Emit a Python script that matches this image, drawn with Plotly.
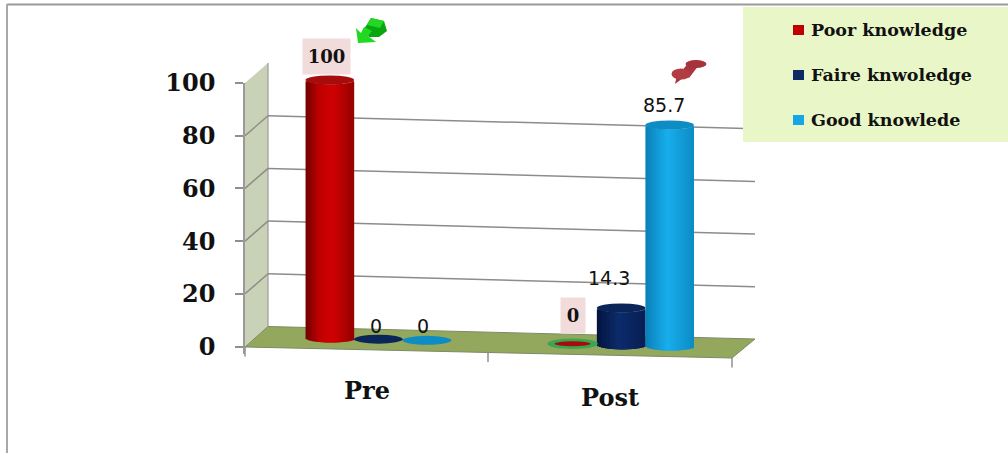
import math
import plotly.graph_objects as go

# ---- chart data ----
categories = ["Pre", "Post"]
series_names = ["Poor knowledge", "Faire knwoledge", "Good knowlede"]
poor_values = [100, 0]
faire_values = [0, 14.3]
good_values = [0, 85.7]
y_ticks = [0, 20, 40, 60, 80, 100]
all_values = [poor_values, faire_values, good_values]

# ---- canvas ----
W, H = 1008, 453


def px(x):
    return x / W


def py(y):
    return 1 - y / H


def poly(points):
    d = "M" + " L".join(f"{px(x):.5f},{py(y):.5f}" for x, y in points) + " Z"
    return d


def paper_poly(points, fill, line="rgba(0,0,0,0)", width=0, layer="below"):
    return dict(type="path", xref="paper", yref="paper", path=poly(points),
                fillcolor=fill, line=dict(color=line, width=width), layer=layer)


def paper_line(x0, y0, x1, y1, color, width):
    return dict(type="line", xref="paper", yref="paper", x0=px(x0), y0=py(y0),
                x1=px(x1), y1=py(y1), line=dict(color=color, width=width), layer="below")


def paper_ellipse(cx, cy, rx, ry, fill, layer="above"):
    return dict(type="circle", xref="paper", yref="paper", x0=px(cx - rx), x1=px(cx + rx),
                y0=py(cy + ry), y1=py(cy - ry), fillcolor=fill,
                line=dict(width=0), layer=layer)


# ---- axis geometry: the value scale of the wall and the scale of the cylinders ----
WALL_ZERO, WALL_TOP, AXIS_BOTTOM = 346.5, 83.0, 354.0
WALL_SCALE = (WALL_ZERO - WALL_TOP) / 100
BAR_SCALE = 2.58
BAR_SPAN_TOP = 40.0
GROUP_LEFT, GROUP_RIGHT = 257.0, 742.5          # category band of the cylinders
FRONT_LEFT, FRONT_RIGHT = 245.0, 732.0          # category band of the front edge
STEP = (GROUP_RIGHT - GROUP_LEFT) / 2
BAR_W = 0.2                                      # cylinder width in category units
BAR_W_PX = BAR_W * STEP
RY = 4.5                                         # half height of a cylinder's ellipse
N_BANDS = 24

# cylinder shading: dark rim, bright body
side_shades = [
    [(0.0, (112, 0, 0)), (0.28, (190, 0, 0)), (0.55, (208, 2, 2)), (1.0, (150, 0, 0))],
    [(0.0, (4, 20, 62)), (0.45, (12, 44, 108)), (1.0, (8, 30, 84))],
    [(0.0, (10, 128, 184)), (0.45, (24, 174, 236)), (1.0, (12, 140, 196))],
]
cap_colors = ["#a60c0c", "#0a2558", "#0e8cc4"]
series_swatches = ["#c00000", "#0d2a66", "#16a6e6"]


def shade(stops, t):
    for (t0, c0), (t1, c1) in zip(stops, stops[1:]):
        if t <= t1:
            a = (t - t0) / (t1 - t0)
            r, g, b = (round(u + (v - u) * a) for u, v in zip(c0, c1))
            return f"rgb({r},{g},{b})"
    return f"rgb{stops[-1][1]}"


def floor_lift(cat, ser):
    """Height of a cylinder's base above the zero line, in value units: the floor recedes rightward."""
    centre = GROUP_LEFT + STEP * (cat + 0.5) + (ser - 1) * BAR_W_PX
    base_px = 338.0 + 0.0238 * (centre - 330)
    return (WALL_ZERO - base_px) / BAR_SCALE


fig = go.Figure()

# Each cylinder is a stack of overlapping vertical bars, giving the side shading and a rounded base
for s, (name, vals) in enumerate(zip(series_names, all_values)):
    band = BAR_W / N_BANDS
    for k in range(N_BANDS):
        t = (k + 0.5) / N_BANDS
        u = 2 * t - 1
        bulge = RY * math.sqrt(1 - u * u) / BAR_SCALE
        left = (s - 1) * BAR_W - BAR_W / 2 + k * band
        fig.add_trace(go.Bar(
            x=categories, y=vals,
            base=[floor_lift(c, s) - bulge if v else 0 for c, v in enumerate(vals)],
            width=min(2.2 * band, (N_BANDS - k) * band), offset=left,
            marker=dict(color=shade(side_shades[s], t), line=dict(width=0)),
            name=name, showlegend=False, hoverinfo="skip",
            cliponaxis=False, xaxis="x2", yaxis="y2",
        ))

shapes = []

# page frame
shapes.append(paper_line(7, 4.5, W, 4.5, "#9a9a9a", 2))
shapes.append(paper_line(7, 4, 7, H, "#a8a8a8", 2))

# side wall and floor of the 3-D box
shapes.append(paper_poly([(245, 83), (268, 63), (268, 326.5), (245, 346.5)], "#c9d1b6"))
shapes.append(paper_poly([(245, 347), (268, 326.5), (755, 339), (732, 358)], "#93a85c", "#7d8a66", 1))
shapes.append(paper_line(268, 63, 268, 326.5, "#9a9a9a", 1.2))

# gridlines: a short run on the side wall, then across the back wall
for v in y_ticks:
    rise = 20 / WALL_SCALE
    drop = 13 / WALL_SCALE
    if v > 0:
        shapes.append(dict(type="line", xref="paper", yref="y", x0=px(245), x1=px(268),
                           y0=v, y1=v + rise, line=dict(color="#8c8c8c", width=1.5), layer="below"))
        shapes.append(dict(type="line", xref="paper", yref="y", x0=px(268), x1=px(755),
                           y0=v + rise, y1=v + rise - drop, line=dict(color="#8c8c8c", width=1.5), layer="below"))

# ticks on the sloping front edge
for bx, by in [(245, 347), (488, 352.5), (732, 358)]:
    shapes.append(paper_line(bx, by, bx, by + 9.5, "#8f8f8f", 1.5))

# legend panel
shapes.append(dict(type="rect", xref="paper", yref="paper", x0=px(743), x1=1, y0=py(142), y1=py(7),
                   fillcolor="#e9f7c8", line=dict(width=0), layer="below"))

# cylinder tops (flat discs where the value is zero)
for s, vals in enumerate(all_values):
    for c, v in enumerate(vals):
        cx = c + (s - 1) * BAR_W
        cy = v + floor_lift(c, s)
        dy = RY / BAR_SCALE
        if v == 0 and s == 0:   # ringed disc
            shapes.append(dict(type="circle", xref="x2", yref="y2", x0=cx - BAR_W * 0.52, x1=cx + BAR_W * 0.52,
                               y0=cy - dy * 1.15, y1=cy + dy * 1.15, fillcolor="#3aa552",
                               line=dict(width=0), layer="above"))
            shapes.append(dict(type="circle", xref="x2", yref="y2", x0=cx - BAR_W * 0.37, x1=cx + BAR_W * 0.37,
                               y0=cy - dy * 0.55, y1=cy + dy * 0.55, fillcolor=cap_colors[s],
                               line=dict(width=0), layer="above"))
        else:
            shapes.append(dict(type="circle", xref="x2", yref="y2", x0=cx - BAR_W / 2, x1=cx + BAR_W / 2,
                               y0=cy - dy, y1=cy + dy, fillcolor=cap_colors[s],
                               line=dict(width=0), layer="above"))

# clip-art: green arrow
shapes.append(paper_poly([(364, 29), (371, 18), (384, 21), (387, 31), (379, 37), (369, 37)], "#0aa60f", layer="above"))
shapes.append(paper_poly([(371, 18), (384, 21), (380, 28), (367, 25)], "#22d822", layer="above"))
shapes.append(paper_poly([(356, 28), (358, 43), (376, 42), (368, 36), (372, 31), (364, 27), (361, 33)], "#22d822", layer="above"))

# clip-art: red push-pin
shapes.append(paper_poly([(675, 84), (677, 75), (683, 78)], "#a83640", layer="above"))
shapes.append(paper_poly([(681, 72), (689, 62), (699, 65), (689, 78)], "#a83640", layer="above"))
shapes.append(paper_ellipse(696, 64, 10.5, 4, "#a8323a"))
shapes.append(paper_ellipse(681, 74, 9.5, 5.5, "#b23c42"))

# legend swatches
for i, col in enumerate(series_swatches):
    cy = 30 + i * 45
    shapes.append(dict(type="rect", xref="paper", yref="paper", x0=px(793), x1=px(804),
                       y0=py(cy + 5), y1=py(cy - 5), fillcolor=col, line=dict(width=0), layer="above"))

SERIF = "DejaVu Serif"
SANS = "DejaVu Sans"
annotations = []

# value labels; the first series' labels sit on pink plates
label_nudge = {(0, 0): (-3.5, -23.5), (1, 0): (-2.5, -13), (2, 0): (-4, -14),
               (0, 1): (0, -28.5), (1, 1): (-12, -30), (2, 1): (-5.5, -19.5)}
plate_size = {(0, 0): (47, 35), (0, 1): (24, 35)}
for s, vals in enumerate(all_values):
    for c, v in enumerate(vals):
        nx, ny = label_nudge[(s, c)]
        plated = (s, c) in plate_size
        ann = dict(
            x=categories[c], y=v + floor_lift(c, s), xref="x2", yref="y2",
            xshift=(s - 1) * BAR_W_PX + nx, yshift=-ny, text=f"{v:g}", showarrow=False,
            xanchor="center", yanchor="middle",
            font=dict(family=SERIF if plated else SANS, size=18 if plated else 19,
                      color="#111111", weight=700 if plated else 400),
        )
        if plated:
            w, h = plate_size[(s, c)]
            ann.update(width=w, height=h, bgcolor="#f2dcdb", align="center", valign="middle", borderpad=0)
        annotations.append(ann)

# category labels follow the sloping front edge
for c, (name, ly) in enumerate(zip(categories, (390.5, 397))):
    annotations.append(dict(x=name, xref="x", y=py(ly), yref="paper", text=name, showarrow=False,
                            xanchor="center", yanchor="middle",
                            font=dict(family=SERIF, size=24, color="#111111", weight=700)))

# legend entries
for i, name in enumerate(series_names):
    annotations.append(dict(x=px(809), xref="paper", y=py(30 + i * 45), yref="paper", text=name, showarrow=False,
                            xanchor="left", yanchor="middle",
                            font=dict(family=SERIF, size=17.5, color="#111111", weight=700)))

fig.update_layout(
    width=W, height=H, autosize=False,
    margin=dict(l=0, r=0, t=0, b=0, autoexpand=False),
    paper_bgcolor="white", plot_bgcolor="rgba(0,0,0,0)",
    barmode="overlay", showlegend=False,
    shapes=shapes, annotations=annotations,
    xaxis=dict(domain=[px(FRONT_LEFT), px(FRONT_RIGHT)], type="category", categoryorder="array",
               categoryarray=categories, range=[-0.5, 1.5], showline=False, showgrid=False,
               showticklabels=False, ticks="", zeroline=False, anchor="y", fixedrange=True),
    yaxis=dict(domain=[py(AXIS_BOTTOM), py(WALL_TOP)], anchor="x",
               range=[(WALL_ZERO - AXIS_BOTTOM) / WALL_SCALE, 100],
               tickmode="array", tickvals=y_ticks, ticktext=[str(v) for v in y_ticks],
               ticks="outside", ticklen=8, tickcolor="#8f8f8f", tickwidth=1.5,
               showline=True, linecolor="#9a9a9a", linewidth=1.5,
               showgrid=False, zeroline=False, ticklabelstandoff=15, fixedrange=True,
               tickfont=dict(family=SERIF, size=24, color="#111111", weight=700)),
    xaxis2=dict(domain=[px(GROUP_LEFT), px(GROUP_RIGHT)], type="category", categoryorder="array",
                categoryarray=categories, range=[-0.5, 1.5], visible=False, anchor="y2", fixedrange=True),
    yaxis2=dict(domain=[py(AXIS_BOTTOM), py(BAR_SPAN_TOP)], anchor="x2", visible=False,
                range=[(WALL_ZERO - AXIS_BOTTOM) / BAR_SCALE, (WALL_ZERO - BAR_SPAN_TOP) / BAR_SCALE],
                fixedrange=True),
)

fig.write_html("out.html", config={"displayModeBar": False})
